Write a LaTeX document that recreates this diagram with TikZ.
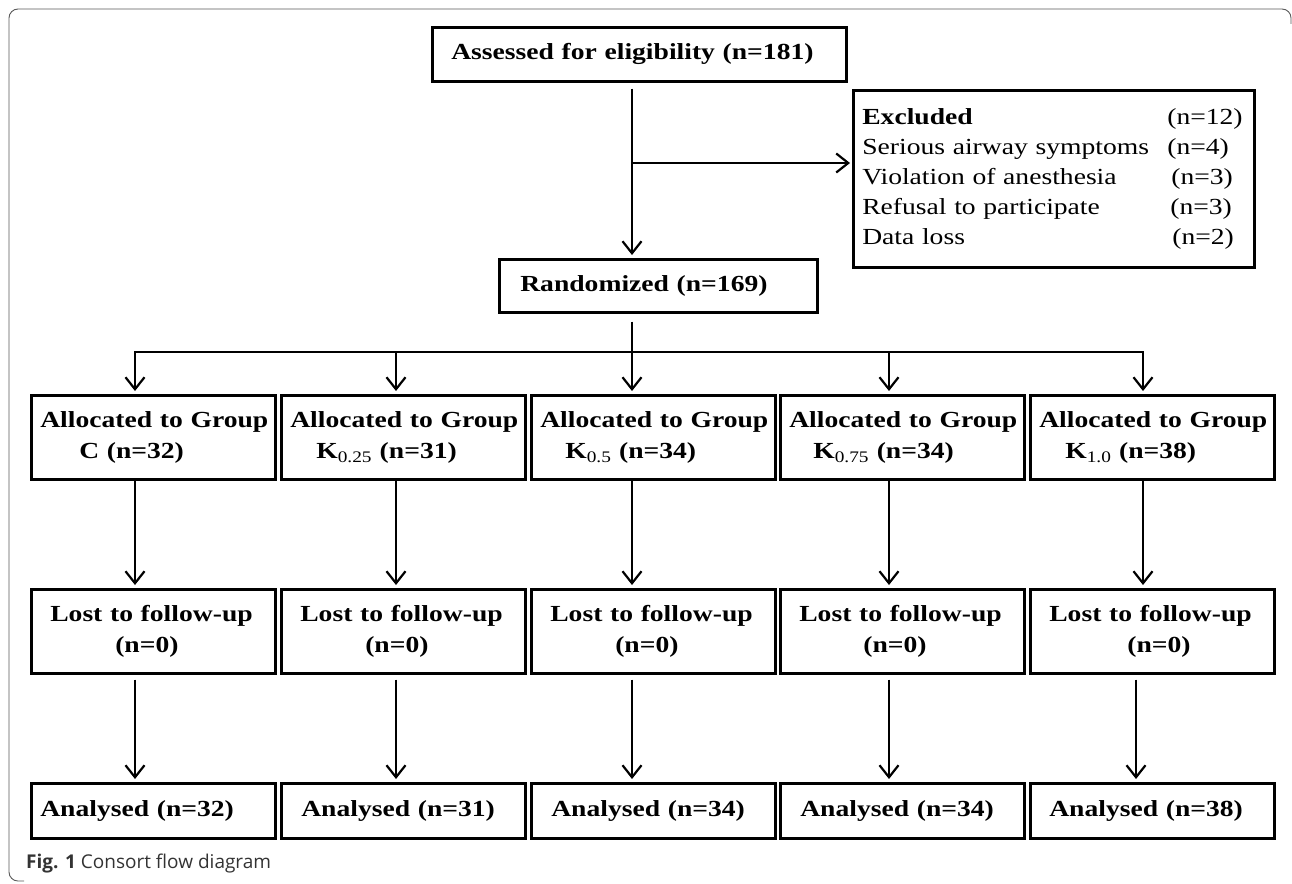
\documentclass[tikz,border=0pt]{standalone}
\usepackage{fontspec}
\setmainfont[FakeStretch=1.2]{Liberation Serif}
\newfontfamily\capfont{Open Sans}
\usetikzlibrary{arrows.meta}

\begin{document}
\begin{tikzpicture}[x=1pt,y=-1pt,
    box/.style={draw,line width=2.6pt,inner xsep=9pt,inner ysep=0pt,align=left,anchor=north west,
      font=\fontsize{23}{31}\selectfont\bfseries},
    grp/.style={box,text width=226pt,minimum height=84pt},
    res/.style={box,text width=226pt,minimum height=55pt},
    arr/.style={-{Straight Barb[length=12pt,width=19pt]},line width=2.2pt,shorten >=3pt}]
  \useasboundingbox (0,0) rectangle (1292,883);
  % frame and caption
  \draw [black!65,line width=0.9pt,rounded corners=9pt] (1291,24) -- (1291,9) -- (9,9) -- (9,881) -- (24,881);
  \node [anchor=west,inner sep=0pt,text=black!80,font=\capfont\fontsize{19}{22}\selectfont] (cap) at (26,864)
    {\textbf{Fig. 1} Consort flow diagram};

  \node [box,text width=396pt,minimum height=54pt] (assess) at (431,26) {\hspace*{10pt}Assessed for eligibility (n=181)};
  \node [box,text width=300pt,minimum height=53pt] (rand) at (498,258) {\hspace*{12pt}Randomized (n=169)};
  \node [box,text width=383pt,minimum height=177pt,font=\fontsize{23}{30}\selectfont] (excl) at (852,89)
    {\makebox[305pt][l]{\textbf{Excluded}}(n=12)\\
     \makebox[305pt][l]{Serious airway symptoms}(n=4)\\
     \makebox[309pt][l]{Violation of anesthesia}(n=3)\\
     \makebox[308pt][l]{Refusal to participate}(n=3)\\
     \makebox[310pt][l]{Data loss}(n=2)\\[12pt]};

  % allocation
  \node [grp] (a1) at (30,394) {\makebox[226pt][s]{Allocated to Group}\\\hspace*{39pt}C (n=32)};
  \node [grp] (a2) at (280,394) {\makebox[226pt][s]{Allocated to Group}\\\hspace*{26pt}K\textsubscript{\mdseries 0.25} (n=31)};
  \node [grp] (a3) at (530,394) {\makebox[226pt][s]{Allocated to Group}\\\hspace*{25pt}K\textsubscript{\mdseries 0.5} (n=34)};
  \node [grp] (a4) at (779,394) {\makebox[226pt][s]{Allocated to Group}\\\hspace*{24pt}K\textsubscript{\mdseries 0.75} (n=34)};
  \node [grp] (a5) at (1029,394) {\makebox[226pt][s]{Allocated to Group}\\\hspace*{26pt}K\textsubscript{\mdseries 1.0} (n=38)};

  % follow-up
  \node [grp] (l1) at (30,588) {\hspace*{10pt}\makebox[206pt][s]{Lost to follow-up}\\\hspace*{75pt}(n=0)};
  \node [grp] (l2) at (280,588) {\hspace*{10pt}Lost to follow-up\\\hspace*{75pt}(n=0)};
  \node [grp] (l3) at (530,588) {\hspace*{10pt}Lost to follow-up\\\hspace*{75pt}(n=0)};
  \node [grp] (l4) at (779,588) {\hspace*{10pt}Lost to follow-up\\\hspace*{74pt}(n=0)};
  \node [grp] (l5) at (1029,588) {\hspace*{10pt}Lost to follow-up\\\hspace*{88pt}(n=0)};

  % analysis
  \node [res] (an1) at (30,782) {Analysed (n=32)};
  \node [res] (an2) at (280,782) {\hspace*{11pt}Analysed (n=31)};
  \node [res] (an3) at (530,782) {\hspace*{11pt}Analysed (n=34)};
  \node [res] (an4) at (779,782) {\hspace*{11pt}Analysed (n=34)};
  \node [res] (an5) at (1029,782) {\hspace*{10pt}Analysed (n=38)};

  % branch points
  \coordinate (c1) at (135,352);
  \coordinate (c2) at (396,352);
  \coordinate (c3) at (632,352);
  \coordinate (c4) at (889,352);
  \coordinate (c5) at (1143,352);
  \coordinate (br) at (632,163);

  \draw [arr,shorten <=6pt] (assess.south -| c3) -- (rand.north -| c3);
  \draw [arr,shorten >=2pt] (br) -- (excl.west |- br);
  \draw [arr,shorten <=8pt] (rand.south -| c3) -- (a3.north -| c3);
  \draw [{Straight Barb[length=12pt,width=19pt]}-{Straight Barb[length=12pt,width=19pt]},line width=2.2pt,
    shorten <=3pt,shorten >=3pt] (a1.north -| c1) -- (c1) -- (c5) -- (a5.north -| c5);
  \draw [arr] (c2) -- (a2.north -| c2);
  \draw [arr] (c4) -- (a4.north -| c4);

  \draw [arr] (a1.south -| c1) -- (l1.north -| c1);
  \draw [arr] (a2.south -| c2) -- (l2.north -| c2);
  \draw [arr] (a3.south -| c3) -- (l3.north -| c3);
  \draw [arr] (a4.south -| c4) -- (l4.north -| c4);
  \draw [arr] (a5.south -| c5) -- (l5.north -| c5);

  \draw [arr,shorten <=5pt] (l1.south -| c1) -- (an1.north -| c1);
  \draw [arr,shorten <=5pt] (l2.south -| c2) -- (an2.north -| c2);
  \draw [arr,shorten <=5pt] (l3.south -| c3) -- (an3.north -| c3);
  \draw [arr,shorten <=5pt] (l4.south -| c4) -- (an4.north -| c4);
  \draw [arr,shorten <=5pt] ([xshift=-7pt]l5.south -| c5) -- ([xshift=-7pt]an5.north -| c5);
\end{tikzpicture}
\end{document}
